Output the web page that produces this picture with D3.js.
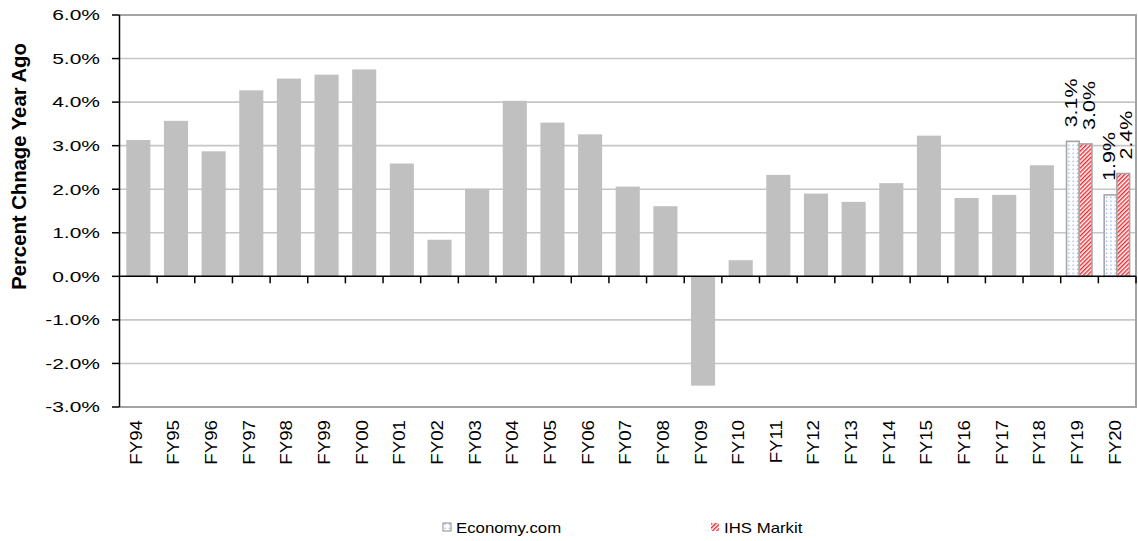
<!DOCTYPE html>
<html>
<head>
<meta charset="utf-8">
<script src="https://cdn.jsdelivr.net/npm/d3@7"></script>
<style>
  html, body { margin: 0; padding: 0; background: #fff; }
  svg { display: block; }
  text { font-family: "Liberation Sans", Arial, sans-serif; fill: #000; }
</style>
</head>
<body>
<svg id="chart" width="1138" height="541"></svg>
<script>
// Fiscal years on the category axis
const categories = ["FY94","FY95","FY96","FY97","FY98","FY99","FY00","FY01","FY02","FY03",
  "FY04","FY05","FY06","FY07","FY08","FY09","FY10","FY11","FY12","FY13","FY14","FY15",
  "FY16","FY17","FY18","FY19","FY20"];

// Actual year-over-year change, percent (null where only forecasts exist)
const actualValues = [3.13, 3.57, 2.87, 4.27, 4.54, 4.63, 4.75, 2.59, 0.84, 2.01,
  4.03, 3.53, 3.26, 2.06, 1.61, -2.51, 0.37, 2.33, 1.90, 1.71, 2.14, 3.23,
  1.80, 1.87, 2.55, null, null];

// Forecast years and the two forecast series, percent
const forecastYears = ["FY19", "FY20"];
const economyValues = [3.10, 1.87];
const ihsValues = [3.04, 2.36];

const seriesNames = ["Economy.com", "IHS Markit"];
const yTicks = [-3, -2, -1, 0, 1, 2, 3, 4, 5, 6];
const yTitle = "Percent Chnage Year Ago";

const svg = d3.select("#chart");
const plot = { left: 119.5, right: 1136, top: 15, bottom: 407 };

const x = d3.scaleBand().domain(categories).range([plot.left, plot.right]).paddingInner(0).paddingOuter(0);
const y = d3.scaleLinear().domain([-3, 6]).range([plot.bottom, plot.top]);
const bw = x.bandwidth();
// one decimal, plain hyphen for negatives
const pct = v => d3.format(".1f")(v).replace("\u2212", "-") + "%";

// Fill patterns for the forecast bars
const defs = svg.append("defs");
const dots = defs.append("pattern").attr("id", "dots")
  .attr("patternUnits", "userSpaceOnUse").attr("width", 4.2).attr("height", 4);
dots.append("rect").attr("width", 4.2).attr("height", 4).attr("fill", "#fff");
dots.append("rect").attr("x", 1.6).attr("y", 0.5).attr("width", 1.1).attr("height", 1.6).attr("fill", "#8ea6ee");

const hatch = defs.append("pattern").attr("id", "hatch")
  .attr("patternUnits", "userSpaceOnUse").attr("width", 3).attr("height", 3)
  .attr("patternTransform", "rotate(45)");
hatch.append("rect").attr("width", 3).attr("height", 3).attr("fill", "#fff");
hatch.append("rect").attr("width", 1.4).attr("height", 3).attr("fill", "#f2242a");

const fills = ["url(#dots)", "url(#hatch)"];

// Horizontal gridlines
svg.append("g").selectAll("line")
  .data(yTicks.filter(t => t !== 0 && t !== -3 && t !== 6))
  .join("line")
  .attr("x1", plot.left).attr("x2", plot.right)
  .attr("y1", d => y(d)).attr("y2", d => y(d))
  .attr("stroke", "#c6c6c6").attr("stroke-width", 1.6);

// Plot frame: top, right and bottom edges
svg.append("path")
  .attr("d", `M${plot.left},${y(6)}H${plot.right}V${y(-3)}H${plot.left}`)
  .attr("fill", "none").attr("stroke", "#a3a3a3").attr("stroke-width", 2);

// Actual bars
const barW = bw * 0.64;
svg.append("g").selectAll("rect")
  .data(categories.map((c, i) => ({ c, v: actualValues[i] })).filter(d => d.v !== null))
  .join("rect")
  .attr("x", d => x(d.c) + (bw - barW) / 2)
  .attr("width", barW)
  .attr("y", d => y(Math.max(0, d.v)))
  .attr("height", d => Math.abs(y(d.v) - y(0)))
  .attr("fill", "#c0c0c0");

// Forecast bars, side by side within each forecast year
const sub = d3.scaleBand().domain([0, 1]).range([bw * 0.155, bw * 0.83]);
const forecast = [];
forecastYears.forEach((fy, i) => {
  forecast.push({ fy, s: 0, v: economyValues[i] });
  forecast.push({ fy, s: 1, v: ihsValues[i] });
});

svg.append("g").selectAll("rect")
  .data(forecast)
  .join("rect")
  .attr("x", d => x(d.fy) + sub(d.s))
  .attr("width", sub.bandwidth())
  .attr("y", d => y(d.v))
  .attr("height", d => y(0) - y(d.v))
  .attr("fill", d => fills[d.s])
  .attr("stroke", "#a6a6a6").attr("stroke-width", 1.6);

// Value labels over the forecast bars
const labelShift = [4, 9];
svg.append("g").selectAll("text")
  .data(forecast)
  .join("text")
  .attr("transform", d => `translate(${x(d.fy) + sub(d.s) + sub.bandwidth() / 2 + labelShift[d.s]},${y(d.v) - 14}) rotate(-90) scale(1.3,1)`)
  .attr("font-size", 16.5)
  .text(d => pct(d.v));

// Y axis
const yAxis = svg.append("g");
yAxis.append("line")
  .attr("x1", plot.left).attr("x2", plot.left)
  .attr("y1", y(6)).attr("y2", y(-3))
  .attr("stroke", "#000").attr("stroke-width", 1.5);
yAxis.selectAll("line.tick")
  .data(yTicks).join("line").attr("class", "tick")
  .attr("x1", plot.left - 7.5).attr("x2", plot.left)
  .attr("y1", d => y(d)).attr("y2", d => y(d))
  .attr("stroke", "#000").attr("stroke-width", 1.5);
yAxis.selectAll("text")
  .data(yTicks).join("text")
  .attr("transform", d => `translate(100,${y(d) + 5.3}) scale(1.4,1)`)
  .attr("text-anchor", "end")
  .attr("font-size", 15)
  .text(d => pct(d));

// X axis at zero with ticks between categories
const xAxis = svg.append("g");
xAxis.append("line")
  .attr("x1", plot.left).attr("x2", plot.right)
  .attr("y1", y(0)).attr("y2", y(0))
  .attr("stroke", "#000").attr("stroke-width", 1.5);
xAxis.selectAll("line.tick")
  .data(categories.slice(1).concat(["__end"]))
  .join("line").attr("class", "tick")
  .attr("x1", d => d === "__end" ? plot.right : x(d))
  .attr("x2", d => d === "__end" ? plot.right : x(d))
  .attr("y1", y(0)).attr("y2", y(0) + 7)
  .attr("stroke", "#000").attr("stroke-width", 1.5);
xAxis.selectAll("text")
  .data(categories).join("text")
  .attr("transform", d => `translate(${x(d) + bw / 2 + 3.5},420) rotate(-90) scale(1.15,1)`)
  .attr("text-anchor", "end")
  .attr("font-size", 16.3)
  .text(d => d);

// Y axis title
svg.append("text")
  .attr("transform", `translate(26,166.5) rotate(-90) scale(1.04,1)`)
  .attr("text-anchor", "middle")
  .attr("font-size", 19.5)
  .attr("font-weight", "bold")
  .text(yTitle);

// Legend
const legendX = [443, 711];
const legend = svg.append("g").selectAll("g")
  .data(seriesNames).join("g")
  .attr("transform", (d, i) => `translate(${legendX[i]},523)`);
legend.append("rect")
  .attr("width", 8).attr("height", 8)
  .attr("fill", (d, i) => fills[i])
  .attr("stroke", (d, i) => i === 0 ? "#8a8a8a" : "none").attr("stroke-width", 1);
legend.append("text")
  .attr("transform", "translate(13,10) scale(1.2,1)")
  .attr("font-size", 14)
  .attr("fill", "#222")
  .text(d => d);
</script>
</body>
</html>
